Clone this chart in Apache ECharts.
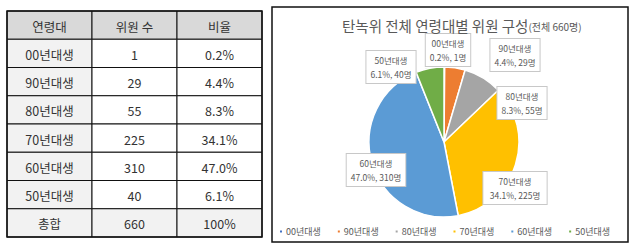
<!DOCTYPE html>
<html>
<head>
<meta charset="utf-8">
<script src="https://cdn.jsdelivr.net/npm/echarts@6/dist/echarts.min.js"></script>
<style>
  html, body { margin: 0; padding: 0; background: #fff; }
  #chart { width: 633px; height: 251px; }
</style>
</head>
<body>
<div id="chart"></div>
<script>
// values
const cohorts = ["00년대생", "90년대생", "80년대생", "70년대생", "60년대생", "50년대생"];
const members = [1, 29, 55, 225, 310, 40];
const shares = ["0.2%", "4.4%", "8.3%", "34.1%", "47.0%", "6.1%"];
const tableHeader = ["연령대", "위원 수", "비율"];
const totalRow = ["총합", "660", "100%"];

const colors = ["#4472C4", "#ED7D31", "#A5A5A5", "#FFC000", "#5B9BD5", "#70AD47"];

// callout centres (px), excel "best fit" placement
const calloutPos = [
  [448, 50], [515, 55], [522, 103], [515, 188], [376, 170], [391, 67],
];

// table layout
const tblX = 7, tblY = 11, colW = 85, rowH = 28.25;
const tableFont = '12.5px "Noto Sans CJK KR", sans-serif';

function buildTable() {
  const rows = [tableHeader]
    .concat(cohorts.map((c, i) => [c, String(members[i]), shares[i]]))
    .concat([totalRow]);
  const els = [];
  rows.forEach((row, r) => {
    row.forEach((txt, c) => {
      let fill = "#ffffff";
      if (r === 0) fill = "#d9d9d9";
      else if (r === rows.length - 1 || c === 0) fill = "#f2f2f2";
      els.push({
        type: "rect",
        shape: { x: tblX + c * colW, y: tblY + r * rowH, width: colW, height: rowH },
        style: { fill: fill, stroke: "#111", lineWidth: 1 },
        silent: true,
      });
      els.push({
        type: "text",
        style: {
          text: txt,
          x: tblX + c * colW + colW / 2,
          y: tblY + r * rowH + rowH / 2 + 1,
          align: "center",
          verticalAlign: "middle",
          font: tableFont,
          fill: "#333333",
        },
        z: 10,
        silent: true,
      });
    });
  });
  // outer frame
  els.push({
    type: "rect",
    shape: { x: tblX, y: tblY, width: colW * 3, height: rowH * rows.length },
    style: { fill: "none", stroke: "#111", lineWidth: 1.5 },
    z: 11,
    silent: true,
  });
  return els;
}

const chart = echarts.init(document.getElementById("chart"), null, { renderer: "svg" });

chart.setOption({
  animation: false,
  backgroundColor: "#ffffff",
  color: colors,
  graphic: [
    {
      type: "rect",
      shape: { x: 272, y: 7, width: 356, height: 235 },
      style: { fill: "#fff", stroke: "#111", lineWidth: 1.5 },
      z: -10,
      silent: true,
    },
    ...buildTable(),
  ],
  title: {
    text: "탄녹위 전체 연령대별 위원 구성{s|(전체 660명)}",
    left: 337,
    top: 13,
    textStyle: {
      fontFamily: "Noto Sans CJK KR",
      fontSize: 14.5,
      fontWeight: "normal",
      color: "#595959",
      rich: {
        s: { fontSize: 10, color: "#595959", fontFamily: "Noto Sans CJK KR", padding: [3, 0, 0, 0] },
      },
    },
  },
  legend: {
    left: 276,
    top: 225,
    padding: 2,
    icon: "rect",
    itemWidth: 4,
    itemHeight: 4,
    itemGap: 15,
    textStyle: { fontSize: 9, color: "#595959", fontFamily: "Noto Sans CJK KR", padding: [0, 0, 0, -2] },
    data: cohorts,
  },
  series: [
    {
      type: "pie",
      center: [444, 142],
      radius: 75,
      startAngle: 90,
      clockwise: true,
      itemStyle: { borderColor: "#fff", borderWidth: 1.5 },
      label: {
        show: true,
        formatter: (p) => `${p.name}\n${shares[p.dataIndex]}, ${p.value}명`,
        fontFamily: "Noto Sans CJK KR",
        fontSize: 8.5,
        lineHeight: 14,
        color: "#595959",
        backgroundColor: "#ffffff",
        borderColor: "#c8c8c8",
        borderWidth: 1,
        padding: [2, 4],
        align: "center",
      },
      labelLine: { show: false },
      labelLayout: (params) => {
        const p = calloutPos[params.dataIndex];
        return { x: p[0], y: p[1], align: "center", verticalAlign: "middle" };
      },
      emphasis: { disabled: true },
      data: cohorts.map((c, i) => ({ name: c, value: members[i] })),
    },
  ],
});
</script>
</body>
</html>
